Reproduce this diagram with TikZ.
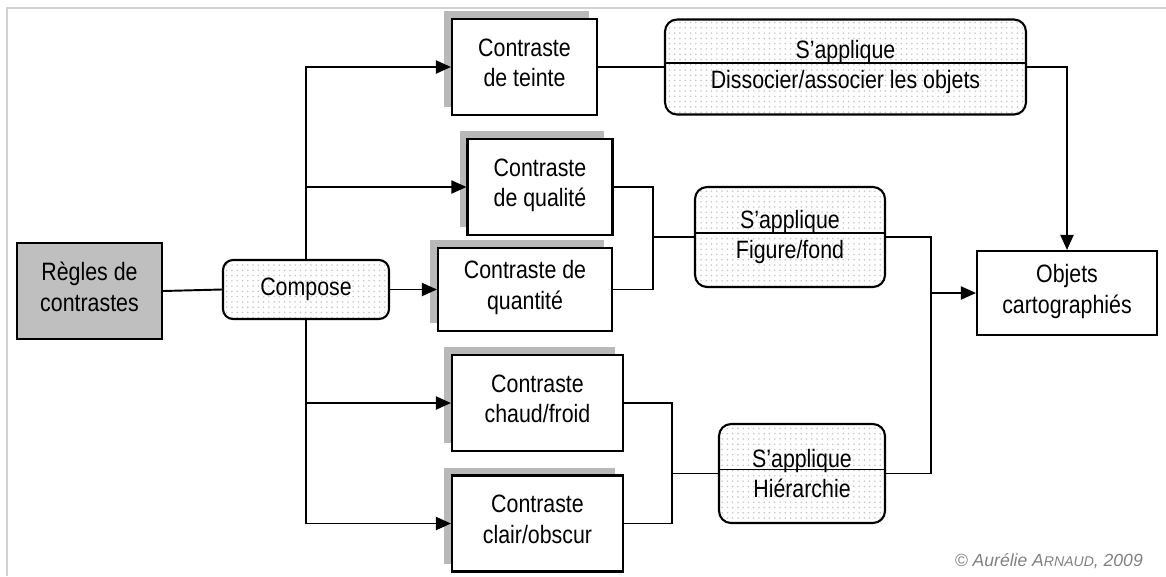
\documentclass[tikz,border=0pt]{standalone}
\usepackage{fontspec}
\setmainfont[FakeStretch=0.85]{Liberation Sans}
\newfontfamily\creditfont{Liberation Sans}
\usetikzlibrary{arrows.meta,shadows,patterns}
\tikzstyle{source} = [rectangle, minimum width=2.9cm, minimum height=1.92cm, align=center, text depth=5pt, draw=black, line width=1.2pt, fill=gray!50]
\tikzstyle{verbe} = [rectangle, rounded corners=0.2cm, minimum width=3.32cm, minimum height=1.18cm, draw=black, line width=1.2pt, preaction={fill=white}, pattern=dots, pattern color=gray!45]
\tikzstyle{contraste} = [rectangle, minimum height=1.92cm, align=center, text depth=5pt, draw=black, line width=1.2pt, fill=white, drop shadow={shadow xshift=-0.16cm, shadow yshift=0.16cm, fill=gray!55, opacity=1}]
\tikzstyle{applique} = [rectangle, rounded corners=0.24cm, minimum height=1.98cm, align=center, draw=black, line width=1.2pt, preaction={fill=white}, pattern=dots, pattern color=gray!45, path picture={\draw[line width=1pt] ([yshift=0.08cm]path picture bounding box.west) -- ([yshift=0.08cm]path picture bounding box.east);}]
\tikzstyle{cible} = [rectangle, minimum width=3.6cm, minimum height=1.68cm, align=center, text depth=5pt, draw=black, line width=1.2pt, fill=white]
\tikzstyle{lien} = [line width=1.1pt]
\tikzstyle{arrow} = [line width=1.1pt, -{Triangle[length=0.3cm, width=0.26cm]}]
\begin{document}
\begin{tikzpicture}[x=0.02cm, y=-0.02cm, font=\fontsize{14.3}{17.5}\selectfont]
  \useasboundingbox (0,0) rectangle (1166,576);
  \draw[gray!35, line width=0.04cm] (7,576) |- (1166,8);

  \node (regles)[source] at (89.5,291) {Règles de\\contrastes};
  \node (compose)[verbe] at (306,289.5) {Compose};
  \node (teinte)[contraste, minimum width=2.9cm] at (524.5,67) {Contraste\\de teinte};
  \node (qualite)[contraste, minimum width=2.9cm] at (540,187) {Contraste\\de qualité};
  \node (quantite)[contraste, minimum width=3.48cm, minimum height=1.66cm] at (525,289.5) {Contraste de\\quantité};
  \node (chaud)[contraste, minimum width=3.42cm] at (537.5,403) {Contraste\\chaud/froid};
  \node (clair)[contraste, minimum width=3.42cm] at (537.5,523.5) {Contraste\\clair/obscur};
  \node (dissocier)[applique, minimum width=7.22cm, minimum height=1.9cm] at (845.5,67) {S’applique\\Dissocier/associer les objets};
  \node (figure)[applique, minimum width=3.8cm, minimum height=2cm] at (790,237) {S’applique\\Figure/fond};
  \node (hierarchie)[applique, minimum width=3.32cm] at (802,473.5) {S’applique\\Hiérarchie};
  \node (objets)[cible] at (1067,293) {Objets\\cartographiés};
  \node (credit)[anchor=base east, text=gray, font=\creditfont\fontsize{10}{12}\selectfont\itshape] at (1149,566) {© Aurélie A{\fontsize{8}{10}\selectfont RNAUD}, 2009};

  % points de jonction
  \coordinate (fq) at (653,237);
  \coordinate (fc) at (672,473.5);
  \coordinate (fo) at (931,293);

  \draw [lien] (regles.east) -- (compose.west);
  \draw [arrow] (compose.north) |- (teinte.west);
  \draw [arrow] (compose.north) |- (qualite.west);
  \draw [arrow] (compose.east) -- (quantite.west);
  \draw [arrow] (compose.south) |- (chaud.west);
  \draw [arrow] (compose.south) |- (clair.west);

  \draw [lien] (teinte.east) -- (dissocier.west);
  \draw [lien] (qualite.east) -| (fq);
  \draw [lien] (quantite.east) -| (fq) -- (figure.west);
  \draw [lien] (chaud.east) -| (fc);
  \draw [lien] (clair.east) -| (fc) -- (hierarchie.west);

  \draw [arrow] (dissocier.east) -| (objets.north);
  \draw [lien] (figure.east) -| (fo);
  \draw [lien] (hierarchie.east) -| (fo);
  \draw [arrow] (fo) -- (objets.west);
\end{tikzpicture}
\end{document}
